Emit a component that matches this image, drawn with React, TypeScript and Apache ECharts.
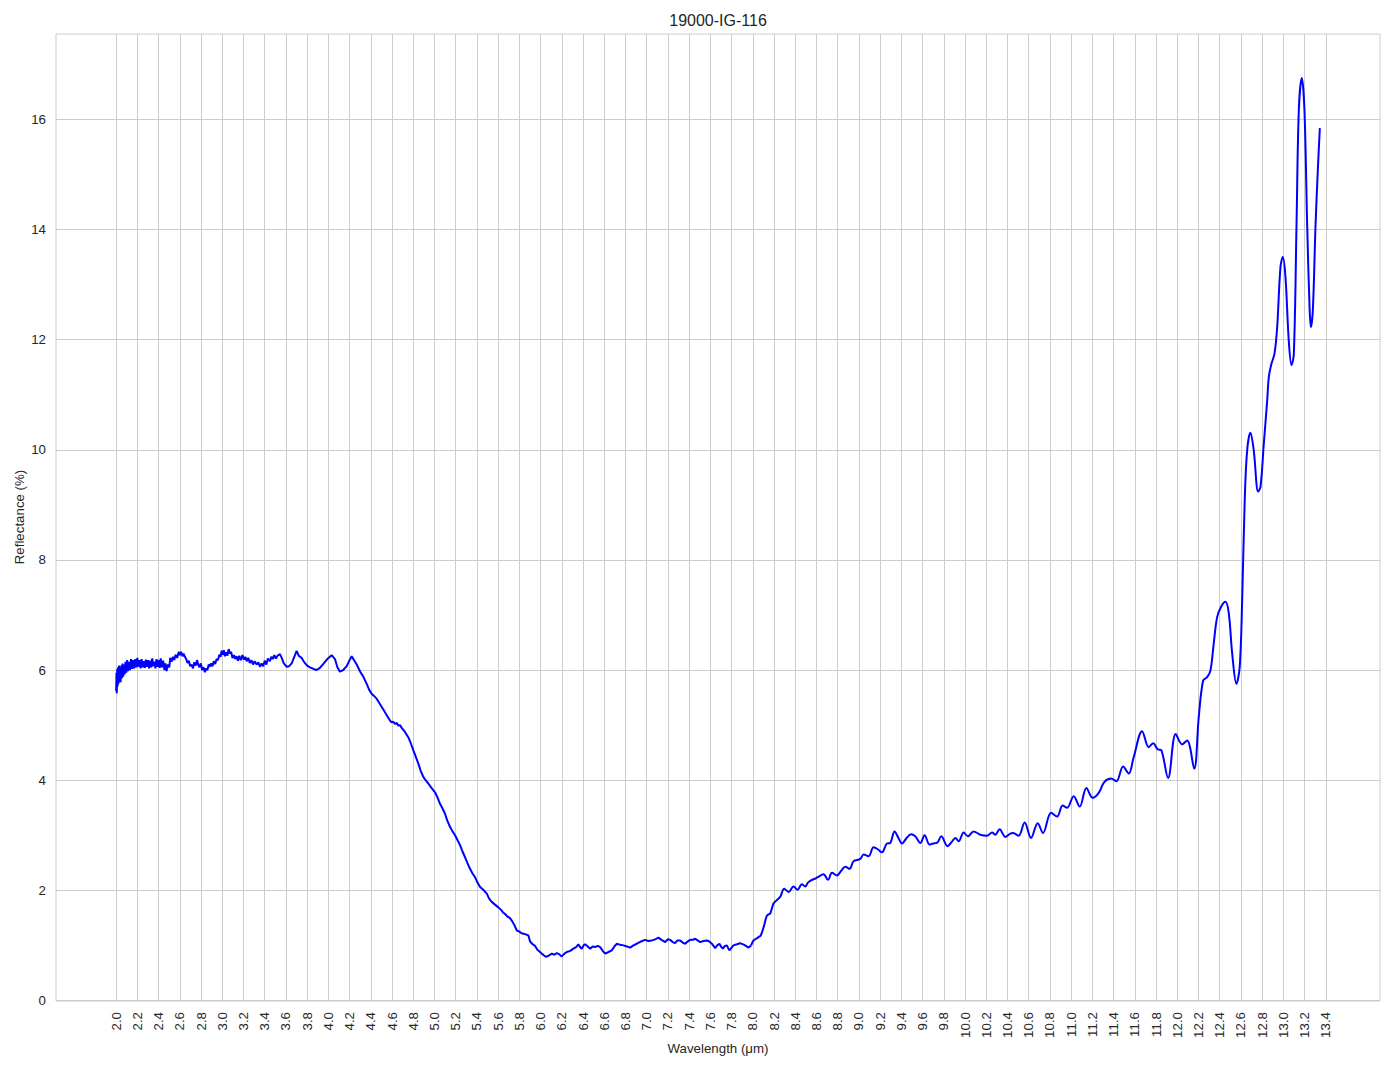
import React, { useEffect, useRef } from "react";
import * as echarts from "echarts";

// Wavelength (µm), Reflectance (%) pairs
const noisyStart: [number, number][] = [
  [2.000, 5.62], [2.003, 5.95], [2.006, 5.58], [2.010, 6.02], [2.014, 5.70], [2.018, 6.05],
  [2.022, 5.75], [2.027, 6.08], [2.032, 5.80], [2.037, 6.00], [2.042, 5.78], [2.048, 6.08],
  [2.054, 5.85], [2.060, 6.12], [2.066, 5.88], [2.073, 6.10], [2.080, 5.92], [2.088, 6.15],
  [2.096, 5.95], [2.104, 6.18], [2.112, 5.98], [2.120, 6.15], [2.130, 6.00], [2.140, 6.20],
  [2.150, 6.02], [2.160, 6.18], [2.170, 6.03], [2.180, 6.20], [2.190, 6.05], [2.200, 6.22],
  [2.210, 6.06], [2.220, 6.18], [2.230, 6.03], [2.240, 6.20], [2.250, 6.05], [2.260, 6.16],
  [2.270, 6.04], [2.280, 6.19], [2.290, 6.06], [2.300, 6.18], [2.310, 6.03], [2.320, 6.17],
  [2.330, 6.05], [2.340, 6.21], [2.350, 6.07], [2.360, 6.15], [2.370, 6.03], [2.380, 6.20],
  [2.390, 6.06], [2.400, 6.18], [2.410, 6.04], [2.420, 6.21], [2.430, 6.05], [2.443, 6.17],
  [2.455, 6.00], [2.465, 6.12], [2.475, 5.98], [2.488, 6.10],
];

const plateau: [number, number][] = [
  [2.500, 6.05], [2.510, 6.22], [2.522, 6.15], [2.535, 6.24], [2.548, 6.18], [2.560, 6.28],
  [2.575, 6.22], [2.590, 6.33], [2.601, 6.27], [2.612, 6.33], [2.625, 6.25], [2.635, 6.30],
  [2.648, 6.24], [2.660, 6.20], [2.672, 6.13], [2.685, 6.17], [2.698, 6.07], [2.711, 6.10],
  [2.724, 6.03], [2.737, 6.14], [2.750, 6.08], [2.762, 6.18], [2.773, 6.10], [2.785, 6.05],
  [2.798, 6.12], [2.810, 6.00], [2.823, 6.05], [2.836, 5.96], [2.848, 6.03], [2.860, 6.00],
  [2.872, 6.10], [2.883, 6.06], [2.895, 6.12], [2.908, 6.07], [2.920, 6.16], [2.933, 6.11],
  [2.947, 6.20], [2.960, 6.18], [2.972, 6.28], [2.984, 6.24], [2.994, 6.35], [3.005, 6.28],
  [3.015, 6.36], [3.025, 6.25], [3.037, 6.32], [3.048, 6.26], [3.060, 6.38], [3.072, 6.30],
  [3.084, 6.33], [3.096, 6.22], [3.110, 6.27], [3.122, 6.20], [3.135, 6.25], [3.148, 6.17],
  [3.160, 6.26], [3.175, 6.18], [3.190, 6.27], [3.205, 6.19], [3.218, 6.24], [3.230, 6.16],
  [3.245, 6.22], [3.260, 6.13], [3.275, 6.18], [3.290, 6.10], [3.305, 6.16], [3.324, 6.10],
  [3.340, 6.14], [3.355, 6.06], [3.370, 6.12], [3.386, 6.07], [3.400, 6.17], [3.415, 6.10],
  [3.430, 6.21], [3.449, 6.16], [3.462, 6.24], [3.475, 6.20], [3.490, 6.27], [3.505, 6.21],
  [3.520, 6.26], [3.544, 6.29], [3.560, 6.22], [3.580, 6.12], [3.607, 6.06], [3.630, 6.07],
  [3.654, 6.12], [3.675, 6.22], [3.701, 6.35], [3.720, 6.26], [3.748, 6.22], [3.770, 6.15],
  [3.800, 6.08], [3.827, 6.05], [3.860, 6.02], [3.890, 6.00], [3.920, 6.04], [3.952, 6.11],
  [3.990, 6.20], [4.031, 6.27], [4.062, 6.20], [4.085, 6.05], [4.109, 5.97], [4.140, 6.00],
  [4.173, 6.07], [4.200, 6.18], [4.220, 6.25], [4.245, 6.17], [4.267, 6.10], [4.300, 5.97],
  [4.329, 5.88],
];

const decline: [number, number][] = [
  [4.361, 5.75], [4.385, 5.64], [4.408, 5.57], [4.430, 5.53], [4.455, 5.48], [4.480, 5.40],
  [4.503, 5.33], [4.525, 5.26], [4.550, 5.18], [4.575, 5.10], [4.595, 5.05], [4.612, 5.06],
  [4.630, 5.02], [4.645, 5.04], [4.659, 4.99], [4.675, 5.00], [4.691, 4.95], [4.720, 4.88],
  [4.753, 4.78], [4.775, 4.68], [4.801, 4.54], [4.825, 4.42], [4.848, 4.30], [4.870, 4.17],
  [4.895, 4.06], [4.920, 3.99], [4.942, 3.94], [4.975, 3.85], [5.005, 3.78], [5.030, 3.68],
  [5.052, 3.57], [5.075, 3.49], [5.099, 3.39], [5.120, 3.27], [5.147, 3.15], [5.170, 3.07],
  [5.194, 3.00], [5.220, 2.90], [5.241, 2.82], [5.265, 2.70], [5.288, 2.60], [5.310, 2.50],
  [5.335, 2.39], [5.360, 2.30], [5.382, 2.24], [5.405, 2.14], [5.430, 2.06], [5.460, 2.01],
  [5.493, 1.94], [5.515, 1.85], [5.540, 1.79], [5.570, 1.74], [5.602, 1.69], [5.630, 1.64],
  [5.645, 1.60], [5.665, 1.57], [5.690, 1.52], [5.710, 1.50], [5.728, 1.45], [5.750, 1.38],
  [5.776, 1.27], [5.800, 1.25], [5.820, 1.22], [5.840, 1.21], [5.860, 1.20], [5.885, 1.18],
  [5.901, 1.07], [5.925, 1.02], [5.948, 0.99], [5.970, 0.92], [5.995, 0.88], [6.011, 0.85],
  [6.030, 0.82], [6.052, 0.79],
];

const trough: [number, number][] = [
  [6.080, 0.82], [6.106, 0.85], [6.130, 0.83], [6.153, 0.86], [6.175, 0.84], [6.200, 0.80],
  [6.225, 0.85], [6.247, 0.88], [6.280, 0.90], [6.309, 0.94], [6.335, 0.97], [6.356, 1.02],
  [6.372, 0.97], [6.388, 0.94], [6.405, 1.00], [6.420, 1.02], [6.445, 0.98], [6.467, 0.94],
  [6.490, 0.98], [6.514, 0.97], [6.540, 0.99], [6.561, 0.97], [6.585, 0.90], [6.608, 0.85],
  [6.640, 0.88], [6.671, 0.91], [6.695, 0.98], [6.719, 1.03], [6.750, 1.01], [6.781, 1.00],
  [6.815, 0.98], [6.844, 0.96], [6.875, 1.00], [6.907, 1.03], [6.945, 1.07], [6.985, 1.10],
  [7.015, 1.08], [7.049, 1.09], [7.080, 1.11], [7.111, 1.14], [7.140, 1.10], [7.174, 1.06],
  [7.200, 1.11], [7.221, 1.10], [7.245, 1.06], [7.268, 1.04], [7.290, 1.09], [7.316, 1.09],
  [7.340, 1.05], [7.363, 1.03], [7.385, 1.07], [7.410, 1.10], [7.435, 1.10], [7.457, 1.12],
  [7.480, 1.09], [7.504, 1.06], [7.535, 1.08], [7.567, 1.09], [7.590, 1.07], [7.614, 1.03],
  [7.630, 0.99], [7.645, 0.95], [7.665, 1.00], [7.686, 1.03], [7.700, 0.98], [7.718, 0.94],
  [7.737, 0.99], [7.756, 1.00], [7.768, 0.95], [7.780, 0.91], [7.800, 0.96], [7.818, 1.00],
  [7.850, 1.02], [7.881, 1.04], [7.920, 1.01], [7.960, 0.96], [7.985, 1.00],
];

const rise: [number, number][] = [
  [7.985, 1.00], [8.007, 1.09], [8.030, 1.12], [8.054, 1.15], [8.075, 1.18], [8.105, 1.35],
  [8.133, 1.54], [8.164, 1.58], [8.195, 1.76], [8.225, 1.82], [8.258, 1.88], [8.296, 2.03],
  [8.337, 1.97], [8.384, 2.07], [8.421, 2.01], [8.463, 2.11], [8.494, 2.07], [8.520, 2.14],
  [8.548, 2.18], [8.585, 2.21], [8.620, 2.25], [8.667, 2.29], [8.709, 2.19], [8.746, 2.32],
  [8.793, 2.27], [8.835, 2.36], [8.871, 2.43], [8.912, 2.39], [8.950, 2.53], [9.013, 2.57],
  [9.044, 2.65], [9.091, 2.62], [9.138, 2.78], [9.175, 2.75], [9.217, 2.69], [9.264, 2.85],
  [9.295, 2.86], [9.336, 3.07], [9.370, 2.96], [9.406, 2.85], [9.450, 2.95], [9.491, 3.02],
  [9.531, 2.98], [9.579, 2.86], [9.619, 3.00], [9.666, 2.83], [9.700, 2.85], [9.736, 2.86],
  [9.776, 2.98], [9.836, 2.80], [9.875, 2.88], [9.909, 2.95], [9.940, 2.89], [9.987, 3.05],
  [10.028, 2.98], [10.081, 3.07], [10.144, 3.01], [10.207, 2.99], [10.255, 3.05],
  [10.286, 3.01], [10.326, 3.11], [10.380, 2.97], [10.427, 3.03],
];

const tail: [number, number][] = [
  [10.453, 3.04], [10.505, 2.99], [10.562, 3.23], [10.622, 2.95], [10.685, 3.22],
  [10.735, 3.04], [10.811, 3.41], [10.868, 3.34], [10.920, 3.54], [10.962, 3.50],
  [11.024, 3.71], [11.081, 3.52], [11.144, 3.86], [11.203, 3.68], [11.260, 3.77],
  [11.314, 3.97], [11.377, 4.03], [11.427, 3.98], [11.490, 4.25], [11.543, 4.12],
  [11.590, 4.42], [11.669, 4.89], [11.731, 4.60], [11.773, 4.67], [11.816, 4.56],
  [11.851, 4.54], [11.914, 4.04], [11.986, 4.84], [12.046, 4.65], [12.093, 4.72],
  [12.160, 4.21], [12.203, 5.15], [12.244, 5.81], [12.282, 5.87], [12.313, 5.99],
  [12.344, 6.48], [12.376, 6.96], [12.414, 7.15], [12.455, 7.24], [12.486, 7.03],
  [12.518, 6.30], [12.558, 5.75], [12.589, 6.06], [12.612, 7.27], [12.636, 9.08],
  [12.659, 9.99], [12.690, 10.31], [12.721, 9.99], [12.763, 9.24], [12.785, 9.33],
  [12.816, 10.11], [12.848, 10.90], [12.863, 11.32], [12.885, 11.54], [12.917, 11.75],
  [12.942, 12.23], [12.973, 13.32], [12.995, 13.50], [13.020, 13.14], [13.051, 11.99],
  [13.077, 11.54], [13.099, 11.74], [13.124, 14.05], [13.146, 16.17], [13.174, 16.75],
  [13.199, 16.17], [13.225, 14.05], [13.247, 12.60], [13.259, 12.23], [13.278, 12.53],
  [13.303, 14.05], [13.325, 15.08], [13.344, 15.84],
];

const xTickValues = [
  2.0, 2.2, 2.4, 2.6, 2.8, 3.0, 3.2, 3.4, 3.6, 3.8, 4.0, 4.2, 4.4, 4.6, 4.8, 5.0, 5.2, 5.4,
  5.6, 5.8, 6.0, 6.2, 6.4, 6.6, 6.8, 7.0, 7.2, 7.4, 7.6, 7.8, 8.0, 8.2, 8.4, 8.6, 8.8, 9.0,
  9.2, 9.4, 9.6, 9.8, 10.0, 10.2, 10.4, 10.6, 10.8, 11.0, 11.2, 11.4, 11.6, 11.8, 12.0, 12.2,
  12.4, 12.6, 12.8, 13.0, 13.2, 13.4,
];
const yTickValues = [0, 2, 4, 6, 8, 10, 12, 14, 16];

const chartTitle = "19000-IG-116";
const xAxisTitle = "Wavelength (μm)";
const yAxisTitle = "Reflectance (%)";

export default function App() {
  const ref = useRef<HTMLDivElement>(null);
  useEffect(() => {
    const chart = echarts.init(ref.current!, null, { renderer: "svg" });
    const textColor = "#262626";
    const gridColor = "#cccccc";
    const font = "'Liberation Sans', Arial, sans-serif";
    const lineColor = "#0000ff";
    chart.setOption({
      animation: false,
      backgroundColor: "#ffffff",
      textStyle: { fontFamily: font },
      graphic: [
        {
          type: "text",
          x: 718,
          y: 20,
          style: {
            text: chartTitle,
            fontSize: 16,
            fontFamily: font,
            fill: textColor,
            textAlign: "center",
            textVerticalAlign: "middle",
          },
        },
        {
          type: "text",
          x: 718,
          y: 1048,
          style: {
            text: xAxisTitle,
            fontSize: 13.3,
            fontFamily: font,
            fill: textColor,
            textAlign: "center",
            textVerticalAlign: "middle",
          },
        },
        {
          type: "text",
          x: 19.5,
          y: 517,
          rotation: Math.PI / 2,
          style: {
            text: yAxisTitle,
            fontSize: 13.3,
            fontFamily: font,
            fill: textColor,
            textAlign: "center",
            textVerticalAlign: "middle",
          },
        },
      ],
      grid: {
        left: 56,
        top: 34,
        width: 1324,
        height: 967,
        show: true,
        borderColor: gridColor,
        borderWidth: 1,
        backgroundColor: "transparent",
      },
      xAxis: {
        type: "value",
        min: 1.433,
        max: 13.911,
        axisLine: { show: false },
        axisTick: { show: false, customValues: xTickValues },
        axisLabel: {
          customValues: xTickValues,
          rotate: 90,
          margin: 11,
          color: textColor,
          fontSize: 13.3,
          fontFamily: font,
          formatter: (v: number) => v.toFixed(1),
        },
        splitLine: { show: true, lineStyle: { color: gridColor, width: 1 } },
      },
      yAxis: {
        type: "value",
        min: -0.01,
        max: 17.55,
        axisLine: { show: false },
        axisTick: { show: false, customValues: yTickValues },
        axisLabel: {
          customValues: yTickValues,
          margin: 10,
          color: textColor,
          fontSize: 13.3,
          fontFamily: font,
          formatter: (v: number) => String(v),
        },
        splitLine: { show: true, lineStyle: { color: gridColor, width: 1 } },
      },
      series: [
        {
          type: "line",
          data: [...noisyStart, ...plateau, ...decline, ...trough],
          showSymbol: false,
          symbol: "none",
          lineStyle: { color: lineColor, width: 2 },
          itemStyle: { color: lineColor },
          clip: true,
        },
        {
          type: "line",
          data: [...rise, ...tail],
          showSymbol: false,
          symbol: "none",
          smooth: 0.35,
          lineStyle: { color: lineColor, width: 2 },
          itemStyle: { color: lineColor },
          clip: true,
        },
      ],
    });
    return () => chart.dispose();
  }, []);
  return (
    <div
      ref={ref}
      style={{ position: "absolute", left: 0, top: 0, width: 1394, height: 1069 }}
    />
  );
}
